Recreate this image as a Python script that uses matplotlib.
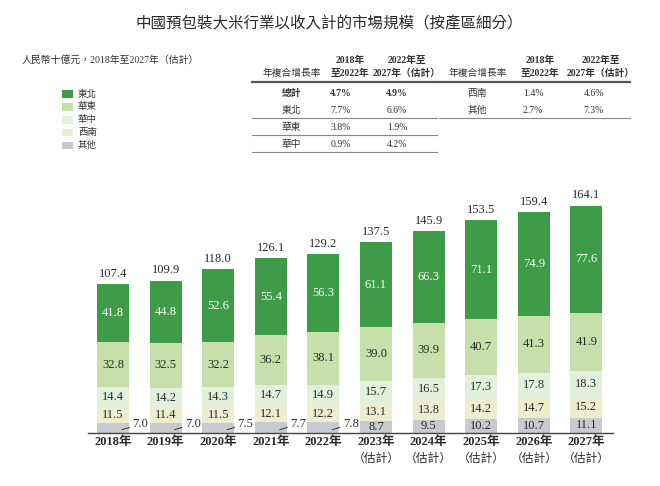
# -*- coding: utf-8 -*-
"""Stacked bars: pre-packaged rice market size in China by region, 2018-2027E."""
import matplotlib
matplotlib.use('Agg')
import matplotlib.pyplot as plt
from matplotlib.lines import Line2D

CJK = 'Noto Sans CJK TC'
SERIF = ['Liberation Serif', CJK]
plt.rcParams['font.family'] = [CJK, 'DejaVu Sans']

years = ['2018年', '2019年', '2020年', '2021年', '2022年',
         '2023年', '2024年', '2025年', '2026年', '2027年']
n_actual = 5  # first five are actuals, rest are estimates

others    = [7.0, 7.0, 7.5, 7.7, 7.8, 8.7, 9.5, 10.2, 10.7, 11.1]
southwest = [11.5, 11.4, 11.5, 12.1, 12.2, 13.1, 13.8, 14.2, 14.7, 15.2]
central   = [14.4, 14.2, 14.3, 14.7, 14.9, 15.7, 16.5, 17.3, 17.8, 18.3]
east      = [32.8, 32.5, 32.2, 36.2, 38.1, 39.0, 39.9, 40.7, 41.3, 41.9]
northeast = [41.8, 44.8, 52.6, 55.4, 56.3, 61.1, 66.3, 71.1, 74.9, 77.6]
totals    = [107.4, 109.9, 118.0, 126.1, 129.2, 137.5, 145.9, 153.5, 159.4, 164.1]

cagr_regions = ['總計', '東北', '華東', '華中', '西南', '其他']
cagr_18_22 = ['4.7%', '7.7%', '3.8%', '0.9%', '1.4%', '2.7%']
cagr_22_27 = ['4.9%', '6.6%', '1.9%', '4.2%', '4.6%', '7.3%']

colors = {'東北': '#3e9c48', '華東': '#c7dfab', '華中': '#e3f0dd',
          '西南': '#efedcf', '其他': '#c9c9d2'}
TXT = '#2a2a2a'

fig = plt.figure(figsize=(6.6, 4.86), dpi=100)

# overlay in pixel coordinates for title, table and legend
ov = fig.add_axes([0, 0, 1, 1])
ov.set_xlim(0, 660)
ov.set_ylim(486, 0)
ov.axis('off')

ov.text(329, 24, '中國預包裝大米行業以收入計的市場規模（按產區細分）',
        ha='center', va='center', fontsize=11.2, color=TXT)
ov.text(22, 60, '人民幣十億元，2018年至2027年（估計）', ha='left', va='center',
        fontsize=7.1, family=SERIF, color='#333333')

# legend
for k, name in enumerate(['東北', '華東', '華中', '西南', '其他']):
    y = 94 + k * 12.8
    ov.add_patch(plt.Rectangle((62, y - 3.5), 11, 7.5, color=colors[name], lw=0))
    ov.text(78, y, name, ha='left', va='center', fontsize=6.8,
            family=SERIF, color='#333333')


# CAGR tables
def cagr_table(x0, x1, hx, vx, rows):
    ov.text(hx[0], 73, '年複合增長率', ha='center', va='center', fontsize=7,
            color='#333333')
    for cx, l1, l2 in [(hx[1], '2018年', '至2022年'),
                       (hx[2], '2022年至', '2027年（估計）')]:
        ov.text(cx, 60, l1, ha='center', va='center', fontsize=7,
                family=SERIF, weight='bold', color='#333333')
        ov.text(cx, 73, l2, ha='center', va='center', fontsize=7,
                family=SERIF, weight='bold', color='#333333')
    ov.add_line(Line2D([x0, x1], [82, 82], color='#555555', lw=1.6))
    ys = [93, 110, 127, 144]
    for r, idx in enumerate(rows):
        w = 'bold' if cagr_regions[idx] == '總計' else 'normal'
        ov.text(vx[0], ys[r], cagr_regions[idx], ha='center', va='center',
                fontsize=7, family=SERIF, weight=w, color='#333333')
        ov.text(vx[1], ys[r], cagr_18_22[idx], ha='center', va='center',
                fontsize=7, family=SERIF, weight=w, color='#333333')
        ov.text(vx[2], ys[r], cagr_22_27[idx], ha='center', va='center',
                fontsize=7, family=SERIF, weight=w, color='#333333')
        if r >= 1:
            yl = ys[r] + 8.5
            ov.add_line(Line2D([x0, x1], [yl, yl], color='#888888', lw=0.8))


cagr_table(252, 437, [292, 350, 407], [291, 341, 397], [0, 1, 2, 3])
cagr_table(439, 630, [478, 540, 601], [477, 533, 594], [4, 5])

# bars
ax = fig.add_axes([88 / 660, 53 / 486, 525 / 660, 249.5 / 486])
x = list(range(len(years)))
stack = [('其他', others), ('西南', southwest), ('華中', central),
         ('華東', east), ('東北', northeast)]
bottom = [0.0] * len(years)
width = 0.61
for name, vals in stack:
    ax.bar(x, vals, width, bottom=bottom, color=colors[name], lw=0)
    for i, v in enumerate(vals):
        if name == '其他' and i < n_actual:
            ax.annotate('%.1f' % v, xy=(i + 0.17, 2.4), xytext=(i + 0.52, 6.4),
                        ha='center', va='center', fontsize=9, family=SERIF,
                        color=TXT,
                        arrowprops=dict(arrowstyle='-', color='#333333', lw=0.7,
                                        relpos=(0.0, 0.3), shrinkA=0, shrinkB=0))
        else:
            c = 'white' if name == '東北' else TXT
            ax.text(i, bottom[i] + v / 2, '%.1f' % v, ha='center', va='center',
                    fontsize=9, family=SERIF, color=c)
    bottom = [b + v for b, v in zip(bottom, vals)]

for i, t in enumerate(totals):
    ax.annotate('%.1f' % t, xy=(i, t), xytext=(0, 3), textcoords='offset points',
                ha='center', va='bottom', fontsize=9, family=SERIF, color=TXT)

ax.set_xlim(-0.475, 9.506)
ax.set_ylim(0, 180)
ax.set_xticks([])
ax.set_yticks([])
for s in ['top', 'left', 'right']:
    ax.spines[s].set_visible(False)
ax.spines['bottom'].set_color('#444444')
ax.spines['bottom'].set_linewidth(1.0)
ax.patch.set_alpha(0)

xt = ax.get_xaxis_transform()
for i, yl in enumerate(years):
    ax.text(i, -0.036, yl, transform=xt, ha='center', va='center', fontsize=9,
            family=SERIF, weight='bold', color=TXT)
    if i >= n_actual:
        ax.text(i, -0.1, '（估計）', transform=xt, ha='center', va='center',
                fontsize=8.5, color=TXT)

fig.savefig('out.png', dpi=100)
